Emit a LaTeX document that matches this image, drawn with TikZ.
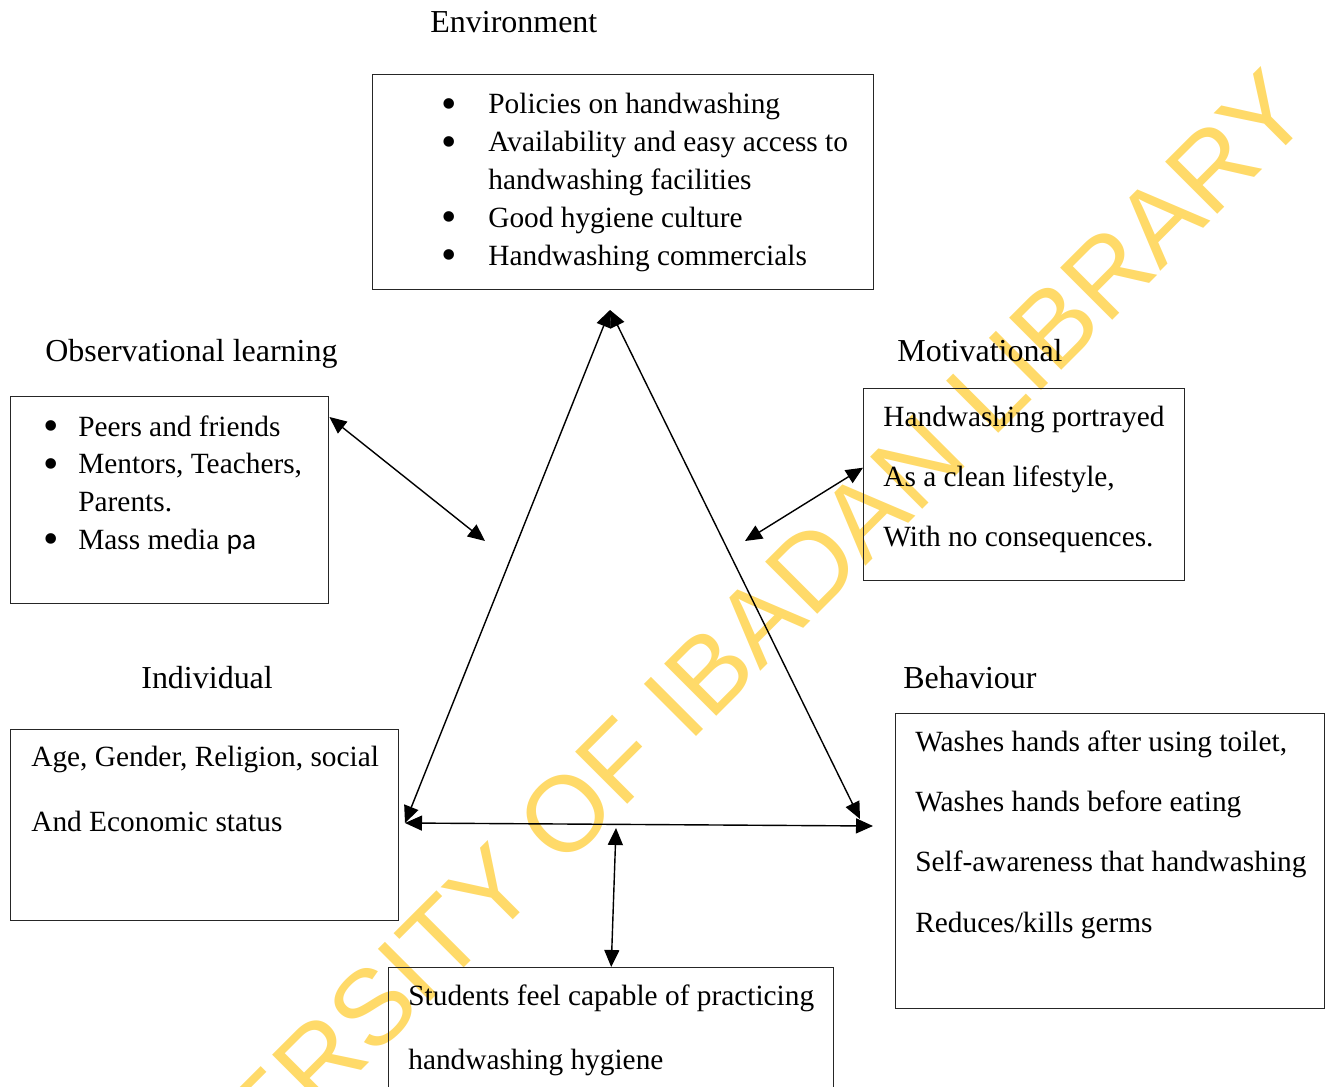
\documentclass[tikz,border=0pt]{standalone}
\usepackage{fontspec}
\setmainfont{Liberation Serif}
\newfontfamily\wmfont{Liberation Sans}
\newfontfamily\calfont{Carlito}
\usepackage{graphicx}
\usetikzlibrary{arrows.meta,positioning}
\definecolor{wmyellow}{RGB}{255,218,105}
\newcommand{\bodysize}{\fontsize{16.7}{21.5}\selectfont}
\newcommand{\headsize}{\fontsize{18.2}{22}\selectfont}
\newcommand{\bul}{\raisebox{-0.15em}{\scalebox{1.5}{\textbullet}}}

\begin{document}
\begin{tikzpicture}[x=0.2mm, y=-0.2mm,
        box/.style={draw=black!85, line width=0.8pt, anchor=north west, inner sep=0pt},
        heading/.style={font=\headsize, anchor=base west, inner sep=0pt},
        body/.style={font=\bodysize, anchor=base west, inner sep=0pt},
        link/.style={line width=0.8pt, {Triangle[length=3.4mm,width=3mm]}-{Triangle[length=3.4mm,width=3mm]}}
    ]
        \useasboundingbox (0,0) rectangle (1325,1087);

        % Watermark
        \node[font=\wmfont\fontsize{61}{61}\selectfont, text=wmyellow, rotate=45, inner sep=0pt] (wm) at (675,705) {UNIVERSITY OF IBADAN LIBRARY};

        % Headings
        \node[heading] (envhead) at (430,33) {Environment};
        \node[heading] (obshead) at (45,361) {Observational learning};
        \node[heading] (mothead) at (897,361) {Motivational};
        \node[heading] (indhead) at (141,688) {Individual};
        \node[heading] (behhead) at (903,688) {Behaviour};

        % Boxes
        \node[box, minimum width=100.2mm, minimum height=43mm] (envbox) at (372,74) {};
        \node[box, minimum width=63.6mm, minimum height=41.4mm] (obsbox) at (10,396) {};
        \node[box, minimum width=64.2mm, minimum height=38.4mm] (motbox) at (863,388) {};
        \node[box, minimum width=77.6mm, minimum height=38.2mm] (indbox) at (10,729) {};
        \node[box, minimum width=85.8mm, minimum height=59mm] (behbox) at (895,713) {};
        \node[box, minimum width=89mm, minimum height=26.6mm] (studbox) at (388,967) {};

        % Box texts
        \node[body] (envtext) at (441,114) {\begin{tabular}[t]{@{}p{9.4mm}@{}l@{}}
            \bul & Policies on handwashing\\
            \bul & Availability and easy access to\\
                 & handwashing facilities\\
            \bul & Good hygiene culture\\
            \bul & Handwashing commercials
        \end{tabular}};
        \node[body] (obstext) at (43,436) {\begin{tabular}[t]{@{}p{7mm}@{}l@{}}
            \bul & Peers and friends\\
            \bul & Mentors, Teachers,\\
                 & Parents.\\
            \bul & Mass media {\calfont pa}
        \end{tabular}};
        \node[body] (mottext) at (883,426) {\renewcommand\arraystretch{1.6}\begin{tabular}[t]{@{}l@{}}
            Handwashing portrayed\\
            As a clean lifestyle,\\
            With no consequences.
        \end{tabular}};
        \node[body] (indtext) at (31,766) {\renewcommand\arraystretch{1.74}\begin{tabular}[t]{@{}l@{}}
            Age, Gender, Religion, social\\
            And Economic status
        \end{tabular}};
        \node[body] (behtext) at (915,751) {\renewcommand\arraystretch{1.6}\begin{tabular}[t]{@{}l@{}}
            Washes hands after using toilet,\\
            Washes hands before eating\\
            Self-awareness that handwashing\\
            Reduces/kills germs
        \end{tabular}};
        \node[body] (studtext) at (408,1005) {\renewcommand\arraystretch{1.72}\begin{tabular}[t]{@{}l@{}}
            Students feel capable of practicing\\
            handwashing hygiene
        \end{tabular}};

        % Triangle corners and arrow ends
        \coordinate (apex) at (610,310);
        \coordinate (lft) at (405,823);
        \coordinate (rgt) at (860,819);
        \coordinate (brgt) at (873,826);
        \coordinate (obsin) at (485,541);
        \coordinate (motin) at (745,541);
        \coordinate (studin) at (616,828);

        % Arrows
        \draw[link] (apex) -- (lft);
        \draw[link] (apex) -- (rgt);
        \draw[link] (lft) -- (brgt);
        \draw[link] ([yshift=-4.2mm]obsbox.north east) -- (obsin);
        \draw[link] (motin) -- ([yshift=3.4mm]motbox.west);
        \draw[link] (studin) -- (studbox.north);
    \end{tikzpicture}
\end{document}
